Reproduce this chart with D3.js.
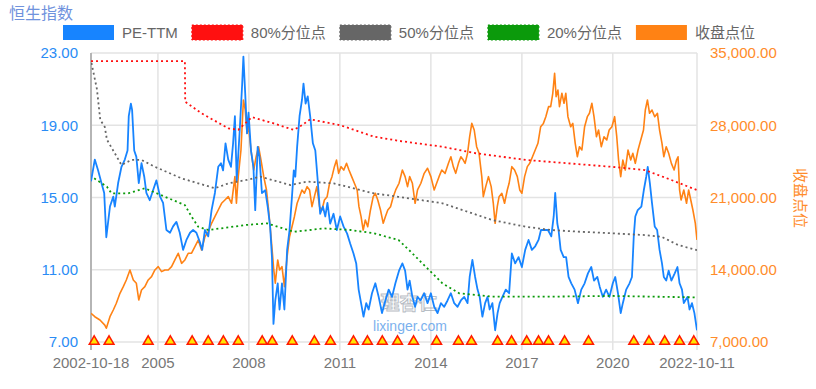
<!DOCTYPE html>
<html>
<head>
<meta charset="utf-8">
<script src="https://cdn.jsdelivr.net/npm/d3@7"></script>
<style>
  body { margin: 0; background: #fff; }
  svg { display: block; font-family: "Liberation Sans", Arial, "Noto Sans CJK SC", sans-serif; }
</style>
</head>
<body>
<div id="chart"></div>
<script>
// dates are decimal years
const peYears = [2002.795,2002.92,2003.03,2003.14,2003.23,2003.30,2003.42,2003.53,2003.58,2003.69,2003.80,2003.91,2004.00,2004.04,2004.11,2004.15,2004.22,2004.29,2004.37,2004.46,2004.55,2004.62,2004.73,2004.84,2004.95,2005.07,2005.17,2005.28,2005.40,2005.50,2005.61,2005.72,2005.83,2005.94,2006.06,2006.16,2006.27,2006.39,2006.46,2006.55,2006.66,2006.77,2006.88,2006.99,2007.08,2007.15,2007.23,2007.32,2007.41,2007.48,2007.54,2007.60,2007.70,2007.78,2007.82,2007.88,2007.94,2007.99,2008.07,2008.15,2008.21,2008.29,2008.35,2008.43,2008.54,2008.62,2008.70,2008.76,2008.81,2008.87,2008.95,2009.01,2009.09,2009.17,2009.26,2009.34,2009.42,2009.48,2009.53,2009.59,2009.67,2009.75,2009.80,2009.87,2009.94,2010.02,2010.11,2010.19,2010.26,2010.35,2010.44,2010.52,2010.59,2010.68,2010.79,2010.90,2011.01,2011.12,2011.24,2011.34,2011.45,2011.54,2011.62,2011.70,2011.78,2011.87,2011.95,2012.06,2012.17,2012.28,2012.39,2012.50,2012.61,2012.72,2012.83,2012.95,2013.06,2013.15,2013.23,2013.30,2013.39,2013.48,2013.56,2013.66,2013.78,2013.89,2014.00,2014.11,2014.22,2014.33,2014.44,2014.55,2014.66,2014.77,2014.88,2014.99,2015.10,2015.21,2015.28,2015.37,2015.46,2015.54,2015.61,2015.70,2015.79,2015.87,2015.94,2016.03,2016.12,2016.20,2016.27,2016.36,2016.47,2016.58,2016.67,2016.78,2016.89,2017.00,2017.11,2017.22,2017.33,2017.44,2017.55,2017.63,2017.74,2017.86,2017.97,2018.05,2018.10,2018.17,2018.21,2018.28,2018.38,2018.46,2018.54,2018.63,2018.74,2018.85,2018.96,2019.07,2019.18,2019.29,2019.38,2019.49,2019.57,2019.67,2019.78,2019.89,2020.00,2020.08,2020.17,2020.26,2020.33,2020.44,2020.55,2020.63,2020.69,2020.74,2020.82,2020.94,2021.02,2021.10,2021.15,2021.22,2021.29,2021.38,2021.46,2021.54,2021.62,2021.68,2021.76,2021.84,2021.93,2022.04,2022.13,2022.20,2022.28,2022.34,2022.46,2022.53,2022.61,2022.69,2022.775];
const peValues = [15.9,17.1,16.5,15.8,15.25,12.8,14.5,15.05,14.5,15.8,16.7,17.1,17.6,19.5,20.2,19.85,17.6,17.25,15.8,16.9,16.15,15.25,14.85,15.4,15.95,15.05,14.7,13.2,13.05,13.4,13.65,13.05,12.1,12.65,13.05,13.2,13.05,12.5,12.1,13.2,12.85,14.3,15.25,16.7,16.9,16.5,18.0,17.1,16.7,18.0,19.5,15.95,18.75,21.3,22.8,20.75,18.55,19.7,17.6,16.7,14.3,17.8,17.25,15.25,15.4,14.5,13.4,11.7,8.0,9.3,10.25,8.8,10.25,8.8,12.1,13.2,15.05,16.5,16.15,17.8,19.5,20.4,21.3,20.2,20.6,19.5,18.0,17.6,16.15,14.1,14.5,13.95,14.7,13.55,14.1,13.2,13.95,13.4,13.0,12.45,11.9,11.35,9.9,9.15,8.4,9.15,8.8,9.7,10.25,9.5,8.6,9.3,9.9,9.5,10.25,10.95,11.35,10.95,9.9,10.4,9.5,8.95,9.5,9.3,9.7,9.15,9.7,8.95,8.6,9.15,8.95,9.3,9.7,9.15,8.95,9.3,9.5,9.15,10.6,11.55,10.6,9.9,9.5,8.4,9.15,9.5,8.8,9.15,7.65,8.6,9.15,9.5,9.9,9.7,11.9,11.35,11.7,11.15,12.1,12.65,12.1,12.3,12.65,13.2,13.2,13.2,12.85,13.95,15.25,13.55,13.2,12.1,11.7,11.7,10.6,10.25,9.9,9.15,9.9,10.25,10.8,11.15,10.4,10.6,10.05,9.5,9.9,9.5,10.25,10.6,9.7,8.6,9.15,9.9,10.25,10.6,12.85,13.95,14.3,14.5,15.4,16.15,16.7,15.8,14.7,13.4,13.2,12.1,11.35,10.6,10.4,10.95,10.4,10.8,11.15,10.25,9.9,9.15,9.5,8.8,9.15,8.6,7.65];

const closeYears = [2002.795,2002.92,2003.09,2003.25,2003.30,2003.42,2003.53,2003.63,2003.75,2003.86,2003.96,2004.08,2004.19,2004.29,2004.37,2004.46,2004.57,2004.68,2004.79,2004.90,2005.01,2005.12,2005.23,2005.34,2005.45,2005.56,2005.67,2005.78,2005.89,2006.00,2006.11,2006.22,2006.33,2006.44,2006.55,2006.66,2006.77,2006.88,2006.99,2007.10,2007.21,2007.32,2007.43,2007.54,2007.59,2007.65,2007.74,2007.82,2007.88,2007.94,2007.99,2008.07,2008.16,2008.24,2008.32,2008.40,2008.49,2008.58,2008.65,2008.73,2008.82,2008.87,2008.95,2009.01,2009.09,2009.17,2009.26,2009.34,2009.42,2009.50,2009.59,2009.67,2009.75,2009.83,2009.92,2010.00,2010.08,2010.16,2010.24,2010.33,2010.41,2010.49,2010.58,2010.66,2010.74,2010.82,2010.89,2010.96,2011.04,2011.13,2011.22,2011.30,2011.39,2011.48,2011.57,2011.63,2011.70,2011.77,2011.84,2011.92,2012.01,2012.10,2012.17,2012.25,2012.34,2012.43,2012.50,2012.58,2012.67,2012.76,2012.84,2012.95,2013.06,2013.15,2013.23,2013.30,2013.39,2013.48,2013.56,2013.67,2013.78,2013.89,2014.00,2014.11,2014.19,2014.27,2014.36,2014.47,2014.58,2014.66,2014.74,2014.82,2014.91,2014.99,2015.07,2015.13,2015.21,2015.28,2015.35,2015.43,2015.51,2015.59,2015.68,2015.73,2015.81,2015.90,2015.99,2016.06,2016.12,2016.19,2016.25,2016.34,2016.43,2016.52,2016.58,2016.67,2016.76,2016.85,2016.93,2017.00,2017.09,2017.18,2017.26,2017.35,2017.44,2017.53,2017.62,2017.71,2017.79,2017.88,2017.95,2018.02,2018.08,2018.13,2018.19,2018.24,2018.32,2018.39,2018.45,2018.52,2018.61,2018.68,2018.76,2018.83,2018.90,2018.98,2019.07,2019.16,2019.23,2019.31,2019.38,2019.46,2019.53,2019.62,2019.71,2019.80,2019.88,2019.97,2020.06,2020.13,2020.19,2020.26,2020.33,2020.41,2020.50,2020.59,2020.66,2020.74,2020.83,2020.92,2021.01,2021.07,2021.14,2021.21,2021.29,2021.38,2021.47,2021.54,2021.62,2021.68,2021.76,2021.84,2021.93,2022.02,2022.10,2022.15,2022.20,2022.25,2022.34,2022.43,2022.50,2022.57,2022.64,2022.72,2022.775];
const closeValues = [9780,9450,9130,8640,8330,9450,10100,10750,11720,12360,13010,13980,13010,12690,11070,12040,12360,13010,13330,13980,14300,13820,13980,13980,14300,14950,15600,14620,14950,15600,15600,16230,16880,15910,17200,17690,18500,19140,19790,20440,20760,21080,20440,23020,20440,23020,25600,30450,29480,27220,27860,25600,23660,24950,25920,24630,23020,21730,19790,17200,13980,12690,14950,13980,14300,12360,15270,17200,18170,19140,20440,21080,21730,21410,22050,21730,20110,21080,22050,20110,19790,20760,21080,22380,23020,23990,24630,23340,23990,23660,24310,23660,23020,22380,21730,20110,19140,17850,18820,18170,19790,21080,21410,20760,19790,18500,19140,19790,20110,21080,21730,22380,23660,23020,22050,23020,22380,20440,21730,22380,23340,23830,23020,21730,22380,23020,23660,23340,24310,24950,23990,23340,24310,24950,24630,24310,25280,26890,28180,27540,25920,25280,23020,21080,22050,23020,22050,20440,18500,20110,21080,21410,20440,21730,22380,23990,23660,23020,21730,21410,23020,23990,24310,24950,25600,26250,27860,28180,28830,29800,29800,31100,33030,30770,31420,29800,31100,30130,31100,28830,27860,28180,26250,24950,25920,25600,27860,28830,29160,30130,28830,26890,27540,25920,26890,26570,27540,27860,28830,26890,24630,23020,24630,23660,25600,24630,25280,24310,25600,26570,27540,29480,30450,29160,29480,28830,29160,27540,26250,24950,25920,25280,24310,23660,24630,24950,21730,20760,21730,20440,21730,20760,19790,18500,16880];

const p80Years = [2002.795,2005.89,2005.90,2006.44,2007.32,2007.65,2008.10,2008.82,2009.48,2009.75,2010.02,2011.02,2012.12,2012.93,2014.38,2015.48,2017.13,2019.95,2021.05,2021.93,2022.775];
const p80Values = [22.55,22.55,20.3,19.66,18.83,18.75,19.45,19.1,18.74,19.0,19.33,19.0,18.37,18.14,17.81,17.45,17.08,16.7,16.52,15.97,15.41];

const p50Years = [2002.81,2002.99,2003.10,2003.25,2003.32,2003.58,2003.80,2004.13,2004.46,2004.90,2005.78,2006.88,2007.32,2007.92,2008.38,2009.37,2009.92,2010.80,2012.12,2012.93,2014.38,2016.03,2017.13,2017.95,2018.85,2019.95,2021.05,2021.60,2022.15,2022.775];
const p50Values = [22.45,21.0,19.3,18.9,18.2,17.45,16.8,17.08,17.08,16.7,16.06,15.51,15.78,15.97,16.15,15.69,15.88,15.78,15.23,15.04,14.68,13.75,13.38,13.2,13.11,13.02,12.92,12.83,12.37,12.09];

const p20Years = [2002.9,2003.32,2003.47,2004.02,2004.57,2005.23,2005.89,2006.11,2006.33,2006.66,2007.92,2008.60,2009.48,2010.47,2011.35,2012.12,2012.93,2013.28,2013.83,2014.38,2014.93,2016.03,2017.95,2019.93,2022.775];
const p20Values = [16.06,15.6,15.23,15.23,15.51,15.04,14.58,13.94,13.38,13.2,13.48,13.57,13.1,13.29,13.2,13.02,12.65,12.09,11.17,10.25,9.7,9.51,9.51,9.55,9.47];

const markerYears = [2002.90,2003.39,2004.68,2005.41,2006.13,2006.66,2007.16,2007.65,2008.44,2008.77,2009.43,2010.16,2010.69,2011.45,2011.91,2012.40,2012.90,2013.43,2014.19,2014.91,2015.34,2016.20,2016.66,2017.16,2017.55,2017.88,2018.41,2019.20,2020.69,2021.19,2021.71,2022.20,2022.67];

const peTicks = [7, 11, 15, 19, 23];
const closeTicks = [7000, 14000, 21000, 28000, 35000];
const yearTicks = [2005, 2008, 2011, 2014, 2017, 2020];

const legendNames = ["PE-TTM", "80%分位点", "50%分位点", "20%分位点", "收盘点位"];
const legendColors = ["#1784ff", "#ff1010", "#666666", "#0b9a0b", "#ff8214"];

// decimal year -> Date
function toDate(y) {
    const yr = Math.floor(y);
    const a = Date.UTC(yr, 0, 1), b = Date.UTC(yr + 1, 0, 1);
    return new Date(a + (y - yr) * (b - a));
}

const width = 816, height = 389;
const plot = { left: 91, right: 697, top: 53, bottom: 342 };

const startDate = new Date(Date.UTC(2002, 9, 18));
const endDate = new Date(Date.UTC(2022, 9, 11));

const svg = d3.select("#chart").append("svg")
    .attr("width", width)
    .attr("height", height);

const x = d3.scaleUtc().domain([startDate, endDate]).range([plot.left, plot.right]);
const yPE = d3.scaleLinear().domain([7, 23]).range([plot.bottom, plot.top]);
const yClose = d3.scaleLinear().domain([7000, 35000]).range([plot.bottom, plot.top]);

// horizontal grid
svg.append("g").selectAll("line").data(peTicks).enter().append("line")
    .attr("x1", plot.left).attr("x2", plot.right)
    .attr("y1", d => yPE(d)).attr("y2", d => yPE(d))
    .style("stroke", "#e3e3e3").style("stroke-width", 1.5);

// vertical grid / ticks
const xTickDates = [startDate].concat(yearTicks.map(y => new Date(Date.UTC(y, 0, 1)))).concat([endDate]);
svg.append("g").selectAll("line").data(xTickDates.slice(1)).enter().append("line")
    .attr("x1", d => x(d)).attr("x2", d => x(d))
    .attr("y1", plot.top).attr("y2", plot.bottom + 8)
    .style("stroke", "#e3e3e3").style("stroke-width", 1.5);

// left axis line
svg.append("line")
    .attr("x1", plot.left).attr("x2", plot.left)
    .attr("y1", plot.top).attr("y2", plot.bottom + 8)
    .style("stroke", "#b5b5b5").style("stroke-width", 2);

// watermark
svg.append("text")
    .attr("x", 409).attr("y", 310)
    .attr("text-anchor", "middle")
    .style("font-family", "'Noto Sans CJK SC'")
    .style("font-size", "19px").style("font-weight", "bold")
    .style("fill", "none").style("stroke", "#9aa3ad").style("stroke-width", 1)
    .style("opacity", 0.7)
    .text("理杏仁");
svg.append("text")
    .attr("x", 410).attr("y", 331)
    .attr("text-anchor", "middle")
    .style("font-size", "14px")
    .style("fill", "#4f97e8").style("opacity", 0.75)
    .text("lixinger.com");

svg.append("clipPath").attr("id", "clip")
    .append("rect").attr("x", plot.left).attr("y", plot.top - 2)
    .attr("width", plot.right - plot.left).attr("height", plot.bottom - plot.top + 4);

const g = svg.append("g").attr("clip-path", "url(#clip)");

function drawLine(years, values, yScale, color, dashed, lw) {
    const pts = years.map((yr, i) => [toDate(yr), values[i]]);
    const line = d3.line().x(d => x(d[0])).y(d => yScale(d[1]));
    g.append("path")
        .attr("d", line(pts))
        .style("fill", "none")
        .style("stroke", color)
        .style("stroke-width", lw)
        .style("stroke-linejoin", "round")
        .style("stroke-dasharray", dashed ? "2,3" : null);
}

drawLine(closeYears, closeValues, yClose, legendColors[4], false, 1.6);
drawLine(peYears, peValues, yPE, legendColors[0], false, 1.8);
drawLine(p80Years, p80Values, yPE, legendColors[1], true, 1.8);
drawLine(p50Years, p50Values, yPE, legendColors[2], true, 1.8);
drawLine(p20Years, p20Values, yPE, legendColors[3], true, 1.8);

// markers on the bottom
svg.append("g").selectAll("path").data(markerYears).enter().append("path")
    .attr("d", d3.symbol().type(d3.symbolTriangle).size(42))
    .attr("transform", d => `translate(${x(toDate(d))},${plot.bottom - 0.5})`)
    .style("fill", "#ffe600")
    .style("stroke", "#ff1a00")
    .style("stroke-width", 1.5);

// left axis labels
svg.append("g").selectAll("text").data(peTicks).enter().append("text")
    .attr("x", 78).attr("y", d => yPE(d))
    .attr("dy", "0.36em")
    .attr("text-anchor", "end")
    .style("font-size", "15px").style("fill", "#2a8cf5")
    .text(d => d3.format(".2f")(d));

// right axis labels
svg.append("g").selectAll("text").data(closeTicks).enter().append("text")
    .attr("x", 710).attr("y", d => yClose(d))
    .attr("dy", "0.36em")
    .style("font-size", "15px").style("fill", "#ff8c2a")
    .text(d => d3.format(",.2f")(d));

// bottom labels
const fmtFull = d3.utcFormat("%Y-%m-%d"), fmtYear = d3.utcFormat("%Y");
svg.append("g").selectAll("text").data(xTickDates).enter().append("text")
    .attr("x", d => x(d)).attr("y", 368)
    .attr("text-anchor", "middle")
    .style("font-size", "15px").style("fill", "#777")
    .text((d, i) => (i === 0 || i === xTickDates.length - 1) ? fmtFull(d) : fmtYear(d));

// titles
svg.append("text")
    .attr("x", 9).attr("y", 19)
    .style("font-family", "'Noto Sans CJK SC'")
    .style("font-size", "16px").style("fill", "#6f92dd")
    .text("恒生指数");

svg.append("text")
    .attr("transform", "translate(795,198) rotate(90)")
    .attr("text-anchor", "middle")
    .style("font-family", "'Noto Sans CJK SC'")
    .style("font-size", "15px").style("fill", "#ff8c2a")
    .text("收盘点位");

// legend
let lx = 63;
legendNames.forEach((name, i) => {
    const dashed = i >= 1 && i <= 3;
    svg.append("rect")
        .attr("x", lx).attr("y", 25).attr("width", 51).attr("height", 15)
        .style("fill", legendColors[i])
        .style("stroke", dashed ? legendColors[i] : "none")
        .style("stroke-width", 1)
        .style("stroke-dasharray", dashed ? "2,2" : null);
    const t = svg.append("text")
        .attr("x", lx + 59).attr("y", 38)
        .style("font-size", "15px").style("fill", "#666")
        .style("font-family", "'Liberation Sans', 'Noto Sans CJK SC', sans-serif")
        .text(name);
    lx += 59 + t.node().getComputedTextLength() + 14;
});
</script>
</body>
</html>
